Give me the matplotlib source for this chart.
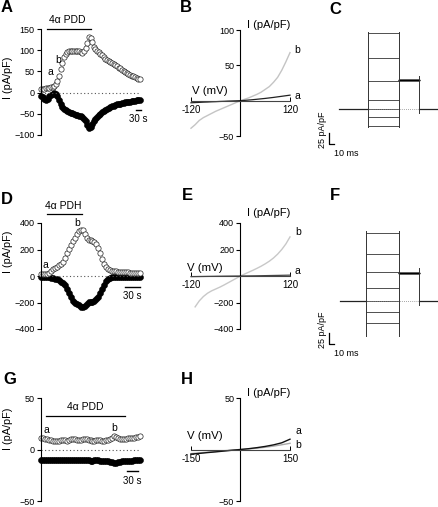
"""
TRPV4-like currents: time courses (A, D, G), I-V curves (B, E, H)
and voltage-step current families (C, F).
"""

import numpy as np
import matplotlib
matplotlib.use('Agg')
import matplotlib.pyplot as plt

plt.rcParams['font.family'] = ['Liberation Sans', 'DejaVu Sans']

W, H = 439, 507

# ---- time courses: current at +100 (open) and -100 mV (filled) ----
A_DT = 10  # s between points
A_OPEN = [8, 9, 9, 10, 11, 12, 13, 14, 16, 20,
          27, 38, 55, 70, 84, 91, 95, 97, 98, 99,
          99, 99, 98, 97, 95, 94, 97, 106, 118, 130,
          128, 119, 108, 102, 98, 95, 92, 88, 84, 80,
          77, 75, 72, 70, 67, 64, 62, 59, 57, 54,
          52, 49, 47, 45, 42, 40, 38, 36, 34, 33,
          31]
A_FILLED = [-8, -10, -14, -17, -14, -9, -5, -3, -2, -4,
            -9, -17, -26, -33, -38, -41, -44, -46, -48, -49,
            -50, -52, -53, -55, -56, -58, -62, -67, -76, -84,
            -82, -74, -67, -62, -58, -54, -50, -46, -43, -40,
            -38, -36, -34, -32, -31, -29, -28, -27, -26, -25,
            -24, -23, -22, -21, -21, -20, -19, -19, -18, -18,
            -17]

D_DT = 4
D_OPEN = [18, 17, 15, 16, 25, 38, 50, 60, 70, 80,
          90, 108, 134, 170, 205, 235, 262, 290, 318, 338,
          348, 345, 320, 290, 275, 268, 264, 256, 238, 210,
          170, 130, 92, 68, 55, 46, 40, 37, 35, 33,
          32, 31, 30, 28, 27, 26, 25, 24, 22, 21,
          20]
D_FILLED = [-10, -10, -9, -9, -10, -12, -16, -20, -25, -33,
            -42, -52, -70, -95, -125, -160, -185, -200, -210, -222,
            -232, -236, -225, -208, -198, -195, -195, -190, -175, -155,
            -125, -95, -65, -40, -25, -15, -10, -7, -5, -5,
            -5, -6, -7, -8, -8, -9, -9, -10, -10, -10,
            -10]

G_DT = 5
G_OPEN = [11.5, 11, 10.5, 10, 9.5, 9, 8.5, 8, 8, 8.5,
          9, 9.5, 9, 8.5, 9, 10, 10.5, 10, 9.5, 9,
          9.5, 10, 10.5, 10, 9.5, 9, 8.5, 8.5, 9, 9.5,
          9, 8.5, 8.5, 9, 9.5, 10, 11.5, 13, 12.5, 11.5,
          10.5, 10, 10, 10.5, 11, 11.5, 11, 11.5, 12, 12.5,
          13]
G_FILLED = [-10, -10.5, -10.5, -10, -10, -10, -10.5, -10.5, -10, -10,
            -10, -10.5, -10.5, -10, -10, -10, -10.5, -10.5, -10, -10,
            -10.5, -10.5, -10, -10, -10.5, -11, -11, -10.5, -10.5, -10.5,
            -11, -11, -11, -11, -11.5, -12, -12.5, -13, -13, -12.5,
            -12, -11.5, -11.5, -11, -11, -11, -11, -10.5, -10.5, -10.5,
            -10.5]

# ---- I-V curves ----
B_V = [-120, -110, -100, -90, -80, -70, -60, -50, -40, -30, -20, -10, 0,
       10, 20, 30, 40, 50, 60, 70, 80, 90, 100, 110, 120]
B_A = [-3, -2.7, -2.4, -2.1, -1.9, -1.6, -1.4, -1.1, -0.9, -0.6, -0.4, -0.2, 0,
       0.4, 0.9, 1.4, 2, 2.6, 3.2, 3.9, 4.6, 5.4, 6.2, 7, 7.8]
B_B = [-39, -34, -28, -24, -21, -18, -15, -12.5, -10, -7.5, -5, -2.5, 0,
       2, 4, 6.5, 9, 12, 16, 20, 26, 33, 43, 55, 68]

E_V = B_V
E_A = [-5, -4.5, -4, -3.5, -3, -2.5, -2, -1.6, -1.2, -0.8, -0.5, -0.2, 0,
       0.4, 0.8, 1.2, 1.7, 2.2, 2.8, 3.4, 4, 4.6, 5.2, 5.8, 6.5]
E_BV = B_V[1:]
E_B = [-233, -188, -155, -130, -112, -98, -84, -68, -51, -34, -17, 0,
       15, 29, 43, 58, 74, 92, 112, 136, 165, 200, 242, 295]

H_V = [-150, -125, -100, -75, -50, -25, 0, 25, 50, 75, 100, 125, 150]
H_A = [-4.5, -3.8, -3, -2.3, -1.5, -0.7, 0, 0.8, 1.8, 3, 4.5, 6.5, 10]
H_B = [-4, -3.3, -2.6, -1.9, -1.2, -0.6, 0, 0.6, 1.3, 2.2, 3.3, 4.6, 6]

# ---- current families (pA/pF) ----
# times (ms): trace start, step on, step off, tail end, trace end
C_TIMES = [0, 58, 120, 160, 196]
C_LEVELS = [172, 116, 64, 20, 0, -18, -38]
C_TAIL = 66
C_EDGE = (176, -42)
F_TIMES = [2, 54, 120, 160, 196]
F_LEVELS = [155, 107, 66, 30, 0, -24, -49]
F_TAIL = 64
F_EDGE = (160, -80)

fig = plt.figure(figsize=(W / 100, H / 100), dpi=100)


def px_axes(x0, x1, y0, y1):
    """Axes from a pixel box (top-left origin)."""
    return fig.add_axes([x0 / W, 1 - y1 / H, (x1 - x0) / W, (y1 - y0) / H])


def letter(x, y, s):
    fig.text(x / W, 1 - y / H, s, fontsize=12, fontweight='bold',
             ha='center', va='center')


TICK_FS = 6.5
LAB_FS = 7.8


def time_panel(ax, dt, opn, fil, ylim, yticks, xmax, bar, drug, scale, ab, ylab_y):
    t_o = np.arange(len(opn)) * dt
    t_f = np.arange(len(fil)) * dt
    ax.plot(t_f, fil, 'o', ms=4.3, color='k', mew=0.4, clip_on=False)
    ax.plot(t_o, opn, 'o', ms=3.8, mfc='white', mec='#222222', mew=0.5, clip_on=False)
    ax.plot([0, xmax], [0, 0], ls=(0, (1, 2.2)), color='#555555', lw=0.8)
    ax.set_xlim(0, xmax)
    ax.set_ylim(*ylim)
    for s in ['top', 'right', 'bottom']:
        ax.spines[s].set_visible(False)
    ax.spines['left'].set_linewidth(0.8)
    ax.set_xticks([])
    ax.set_yticks(yticks)
    ax.tick_params(axis='y', labelsize=TICK_FS, length=3, width=0.8, pad=1.5)
    ax.set_ylabel('I (pA/pF)', fontsize=LAB_FS)
    ax.yaxis.set_label_coords(-0.28, ylab_y)
    # drug application bar
    (b0, b1, by), (tx, ty) = bar
    ax.plot([b0, b1], [by, by], color='k', lw=0.9, clip_on=False)
    ax.text(tx, ty, drug, fontsize=7.5, ha='center', va='bottom')
    # time scale bar
    s0, s1, sy, sty = scale
    ax.plot([s0, s1], [sy, sy], color='k', lw=1.0, clip_on=False)
    ax.text((s0 + s1) / 2, sty, '30 s', fontsize=7, ha='center', va='top')
    for (x, y, s) in ab:
        ax.text(x, y, s, fontsize=7.5, ha='center', va='center')


def iv_panel(ax, curves, xlim, ylim, yticks, vlab, ilab, ab):
    for v, i, c, lw in curves:
        ax.plot(v, i, color=c, lw=lw, clip_on=False)
    ax.set_xlim(*xlim)
    ax.set_ylim(*ylim)
    for s in ['top', 'right']:
        ax.spines[s].set_visible(False)
    ax.spines['left'].set_position(('data', 0))
    ax.spines['bottom'].set_position(('data', 0))
    ax.spines['left'].set_linewidth(0.8)
    ax.spines['bottom'].set_linewidth(0.8)
    ax.spines['bottom'].set_color('#444444')
    ax.set_xticks(list(xlim))
    ax.set_xticklabels([str(xlim[0]), str(xlim[1])])
    ax.set_yticks(yticks)
    ax.tick_params(axis='x', direction='in', length=3, width=0.7,
                   labelsize=TICK_FS + 0.5, pad=3)
    ax.tick_params(axis='y', direction='out', length=3, width=0.8,
                   labelsize=TICK_FS, pad=1.5)
    ax.text(vlab[0], vlab[1], 'V (mV)', fontsize=LAB_FS + 0.4, ha='center', va='center')
    ax.text(ilab[0], ilab[1], 'I (pA/pF)', fontsize=LAB_FS + 0.2, ha='left', va='center')
    for (x, y, s) in ab:
        ax.text(x, y, s, fontsize=7.5, ha='center', va='center', clip_on=False)
    ax.patch.set_visible(False)


def family_panel(ax, times, levels, tail, edge, scale_y):
    t0, on, off, tend, t1 = times
    for lev in levels:
        ax.plot([on, off], [lev, lev], color='#333333', lw=0.6)
        ax.plot([off, tend], [tail, tail], color='k', lw=0.9)
    ax.plot([t0, on], [0, 0], color='#222222', lw=0.9)
    ax.plot([tend, t1], [0, 0], color='#222222', lw=0.9)
    ax.plot([on, tend], [0, 0], ls=(0, (1, 1.5)), color='#888888', lw=0.6)
    for x in (on, off):
        ax.plot([x, x], list(edge), color='#333333', lw=0.7)
    ax.plot([tend, tend], [tail + 10, -8], color='#333333', lw=0.7)
    ax.set_xlim(-40, 200)
    ax.set_ylim(-120, 200)
    ax.axis('off')
    # scale bars: 25 pA/pF, 10 ms
    ax.plot([-20, -20, -10], [scale_y + 25, scale_y, scale_y], color='k', lw=0.9,
            clip_on=False)
    ax.text(-33, scale_y + 33, '25 pA/pF', fontsize=6.5, rotation=90,
            ha='center', va='center', clip_on=False)
    ax.text(-11, scale_y - 10, '10 ms', fontsize=6.5, ha='left', va='top',
            clip_on=False)


# A
ax = px_axes(41, 140, 29, 135)
time_panel(ax, A_DT, A_OPEN, A_FILLED, (-100, 150), [-100, -50, 0, 50, 100, 150],
           600, ((36, 303, 150), (158, 160)), '4\u03b1 PDD',
           (578, 606, -42, -50), [(59, 49, 'a'), (105, 77, 'b')], 0.54)
# D
ax = px_axes(41, 140, 223, 329)
time_panel(ax, D_DT, D_OPEN, D_FILLED, (-400, 400), [-400, -200, 0, 200, 400],
           200, ((12, 83, 468), (45, 490)), '4\u03b1 PDH',
           (170, 200, -83, -110), [(9.5, 85, 'a'), (73, 400, 'b')], 0.73)
# G
ax = px_axes(41, 140, 398, 501)
time_panel(ax, G_DT, G_OPEN, G_FILLED, (-50, 50), [-50, 0, 50],
           250, ((13, 212, 32.5), (111, 36.5)), '4\u03b1 PDD',
           (217, 245, -21, -26), [(14, 19, 'a'), (185, 21, 'b')], 0.7)

# B
ax = px_axes(191, 290, 30, 136)
iv_panel(ax, [(B_V, B_B, '#c4c4c4', 1.0), (B_V, B_A, '#222222', 0.9)],
         (-120, 120), (-50, 100), [-50, 50, 100],
         (-74, 14), (16, 107), [(137, 72, 'b'), (137, 6.6, 'a')])
# E
ax = px_axes(191, 290, 223, 329)
iv_panel(ax, [(E_BV, E_B, '#c8c8c8', 1.0), (E_V, E_A, '#444444', 0.9)],
         (-120, 120), (-400, 400), [-400, -200, 200, 400],
         (-86, 60), (16, 475), [(139, 332, 'b'), (139, 38, 'a')])
# H
ax = px_axes(191, 290, 398, 501)
iv_panel(ax, [(H_V, H_B, '#a8a8a8', 1.0), (H_V, H_A, '#111111', 1.0)],
         (-150, 150), (-50, 50), [-50, 50],
         (-107, 12.7), (20, 55), [(174, 18, 'a'), (174, 4, 'b')])

# C
ax = px_axes(319, 439, 21, 161.8)
family_panel(ax, C_TIMES, C_LEVELS, C_TAIL, C_EDGE, -80)
# F
ax = px_axes(319, 439, 213, 353.8)
family_panel(ax, F_TIMES, F_LEVELS, F_TAIL, F_EDGE, -98)

for x, y, s in [(7, 8, 'A'), (186, 8, 'B'), (335, 10, 'C'),
                (7, 200, 'D'), (187, 196, 'E'), (335, 196, 'F'),
                (10, 380, 'G'), (187, 379, 'H')]:
    letter(x, y, s)

fig.savefig('out.png', dpi=100)
